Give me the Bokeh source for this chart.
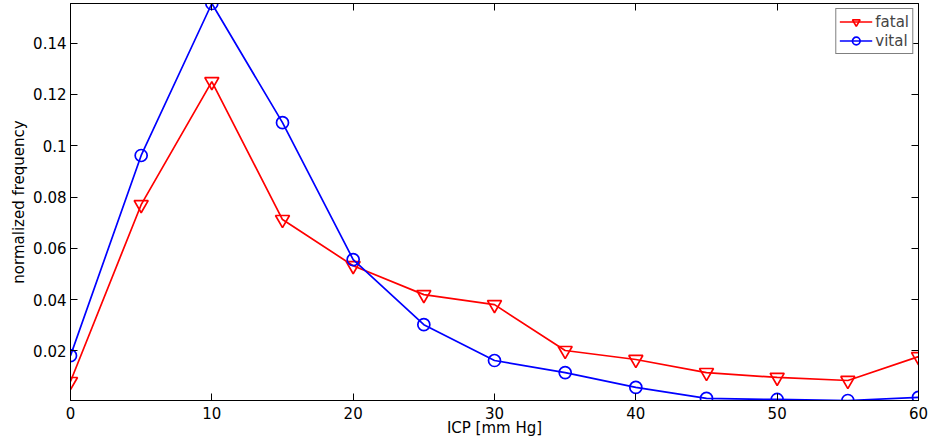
from bokeh.plotting import figure
from bokeh.models import Range1d, FixedTicker, LinearAxis, Legend, LegendItem, CustomJSTickFormatter
from bokeh.embed import file_html
from bokeh.resources import INLINE

icp = [0, 5, 10, 15, 20, 25, 30, 35, 40, 45, 50, 55, 60]
fatal = [0.0080, 0.0770, 0.1250, 0.0712, 0.0532, 0.0419, 0.0380, 0.0201, 0.0166, 0.0115, 0.0096, 0.0084, 0.0177]
vital = [0.0181, 0.0962, 0.1555, 0.1090, 0.0556, 0.0302, 0.0162, 0.0115, 0.0057, 0.0014, 0.0010, 0.0006, 0.0018]
x_ticks = [0, 10, 20, 30, 40, 50, 60]
y_ticks = [0.02, 0.04, 0.06, 0.08, 0.10, 0.12, 0.14]

FONT = "DejaVu Sans"
FS = "15px"

p = figure(width=928, height=447, output_backend="svg", toolbar_location=None,
           x_range=Range1d(0, 60), y_range=Range1d(0.0006, 0.1555),
           min_border_left=70, min_border_right=10, min_border_top=3, min_border_bottom=47)
p.xgrid.visible = False
p.ygrid.visible = False
p.outline_line_color = "black"
p.outline_line_width = 1
p.background_fill_color = "white"
p.border_fill_color = "white"

for ax, ticks in ((p.xaxis[0], x_ticks), (p.yaxis[0], y_ticks)):
    ax.ticker = FixedTicker(ticks=ticks)
    ax.major_tick_in = 7
    ax.major_tick_out = 0
    ax.minor_tick_in = 0
    ax.minor_tick_out = 0
    ax.axis_line_color = "black"
    ax.major_tick_line_color = "black"
    ax.major_label_text_font = FONT
    ax.major_label_text_font_size = FS
    ax.major_label_text_color = "black"
    ax.axis_label_text_font = FONT
    ax.axis_label_text_font_size = FS
    ax.axis_label_text_font_style = "normal"
    ax.axis_label_text_color = "black"

p.xaxis[0].axis_label = "ICP [mm Hg]"
p.xaxis[0].major_label_standoff = 6
p.xaxis[0].axis_label_standoff = -3
p.yaxis[0].axis_label = "normalized frequency"
p.yaxis[0].major_label_standoff = 4
p.yaxis[0].axis_label_standoff = 2
p.yaxis[0].formatter = CustomJSTickFormatter(code="return tick.toFixed(2).replace(/0+$/, '').replace(/\\.$/, '');")

blank = CustomJSTickFormatter(code="return '';")
top = LinearAxis(ticker=FixedTicker(ticks=x_ticks), formatter=blank, major_tick_in=7, major_tick_out=0,
                 minor_tick_in=0, minor_tick_out=0, major_label_standoff=0, axis_line_color="black")
right = LinearAxis(ticker=FixedTicker(ticks=y_ticks), formatter=blank, major_tick_in=7, major_tick_out=0,
                   minor_tick_in=0, minor_tick_out=0, major_label_standoff=0, axis_line_color="black")
p.add_layout(top, "above")
p.add_layout(right, "right")

RED = "#ff0000"
BLUE = "#0000ff"
l1 = p.line(icp, fatal, line_color=RED, line_width=1.7)
s1 = p.scatter(icp, fatal, marker="inverted_triangle", size=14, line_color=RED, line_width=1.7, fill_alpha=0)
l2 = p.line(icp, vital, line_color=BLUE, line_width=1.7)
s2 = p.scatter(icp, vital, marker="circle", size=12, line_color=BLUE, line_width=1.7, fill_alpha=0)

legend = Legend(items=[LegendItem(label="fatal", renderers=[l1, s1]),
                       LegendItem(label="vital", renderers=[l2, s2])],
                location="top_right", margin=5, padding=3, spacing=0,
                glyph_width=33, glyph_height=19, label_height=19, label_standoff=3,
                label_text_font=FONT, label_text_font_size=FS,
                border_line_color="black", border_line_width=1, background_fill_alpha=1)
p.add_layout(legend, "center")

open("out.html", "w").write(file_html(p, INLINE))
